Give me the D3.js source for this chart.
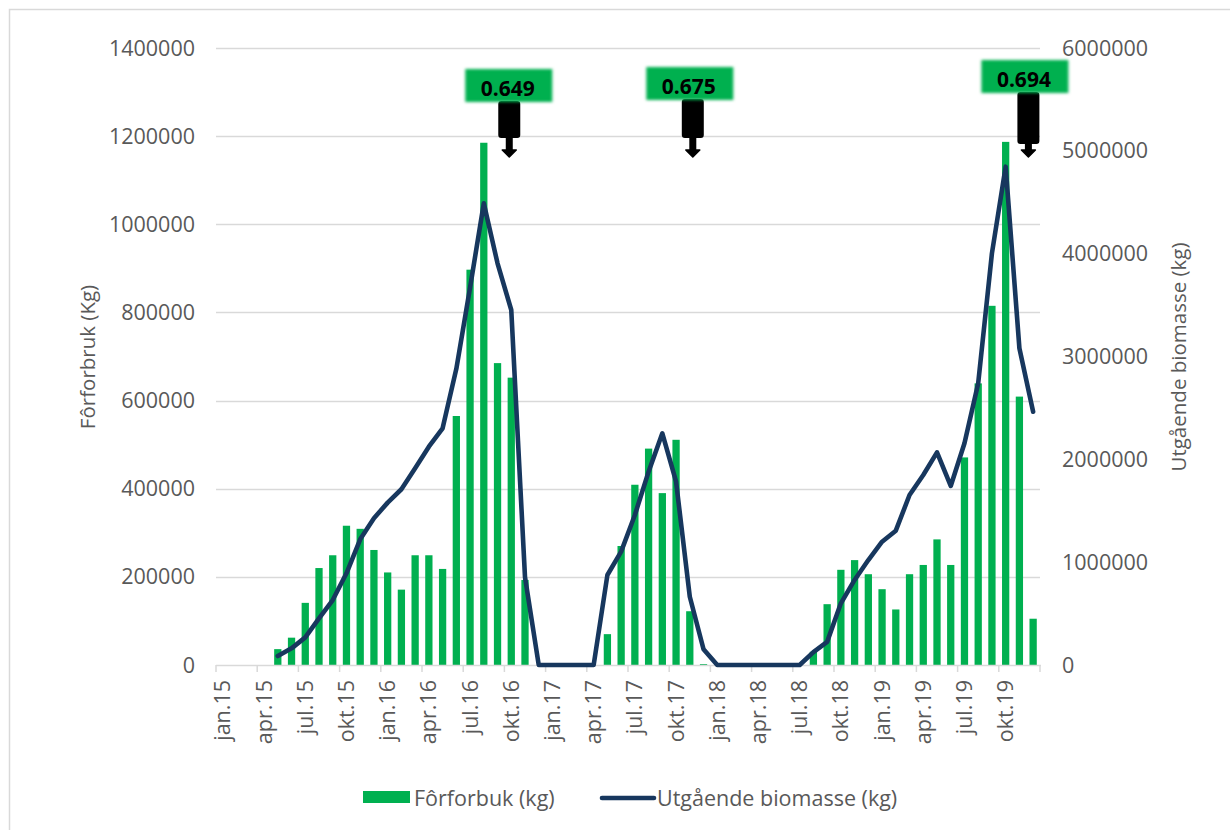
<!DOCTYPE html>
<html>
<head>
<meta charset="utf-8">
<script src="https://cdn.jsdelivr.net/npm/d3@7/dist/d3.min.js"></script>
<style>
  html, body { margin: 0; padding: 0; background: #fff; }
  svg { display: block; }
  text { font-family: "Open Sans", "Liberation Sans", sans-serif; }
</style>
</head>
<body>
<svg id="chart" width="1230" height="830"></svg>
<script>
// ---------- DATA ----------
const categories = [
  "jan.15","feb.15","mar.15","apr.15","mai.15","jun.15","jul.15","aug.15","sep.15","okt.15","nov.15","des.15",
  "jan.16","feb.16","mar.16","apr.16","mai.16","jun.16","jul.16","aug.16","sep.16","okt.16","nov.16","des.16",
  "jan.17","feb.17","mar.17","apr.17","mai.17","jun.17","jul.17","aug.17","sep.17","okt.17","nov.17","des.17",
  "jan.18","feb.18","mar.18","apr.18","mai.18","jun.18","jul.18","aug.18","sep.18","okt.18","nov.18","des.18",
  "jan.19","feb.19","mar.19","apr.19","mai.19","jun.19","jul.19","aug.19","sep.19","okt.19","nov.19","des.19"
];
const tickLabels = [
  "jan.15","apr.15","jul.15","okt.15","jan.16","apr.16","jul.16","okt.16",
  "jan.17","apr.17","jul.17","okt.17","jan.18","apr.18","jul.18","okt.18",
  "jan.19","apr.19","jul.19","okt.19"
];
// Fôrforbuk (kg) – bars, left axis
const feedKg = [
  null, null, null, null, 36000, 62000, 141000, 220000, 249000, 316000, 309000, 261000,
  210000, 171000, 249000, 249000, 218000, 565000, 897000, 1185000, 685000, 652000, 193000, 0,
  0, 0, 0, 0, 70000, 270000, 409000, 491000, 390000, 511000, 122000, 2000,
  0, 0, 0, 0, 0, 0, 0, 30000, 138000, 216000, 238000, 206000,
  172000, 126000, 206000, 227000, 285000, 227000, 471000, 639000, 815000, 1187000, 609000, 105000
];
// Utgående biomasse (kg) – line, right axis
const biomassKg = [
  null, null, null, null, 87500, 162000, 269000, 454000, 632000, 892000, 1222000, 1427000,
  1579000, 1709000, 1913000, 2123000, 2302000, 2880000, 3670000, 4490000, 3906000, 3452000, 855000, 0,
  0, 0, 0, 0, 875000, 1102000, 1459000, 1880000, 2253000, 1783000, 664000, 153000,
  0, 0, 0, 0, 0, 0, 0, 125000, 225000, 600000, 827000, 1021000,
  1199000, 1306000, 1653000, 1848000, 2068000, 1741000, 2156000, 2739000, 4004000, 4846000, 3080000, 2463000
];
const leftTicks = [0, 200000, 400000, 600000, 800000, 1000000, 1200000, 1400000];
const rightTicks = [0, 1000000, 2000000, 3000000, 4000000, 5000000, 6000000];
const annotationLabels = ["0.649", "0.675", "0.694"];
const annotationCategories = ["okt.16", "nov.17", "nov.19"];
const seriesNames = ["Fôrforbuk (kg)", "Utgående biomasse (kg)"];
const axisTitles = ["Fôrforbruk (Kg)", "Utgående biomasse (kg)"];

// ---------- LAYOUT ----------
const svg = d3.select("#chart");
const plot = { left: 216, right: 1040, top: 48, bottom: 665 };
const green = "#00B050", navy = "#17375E", textCol = "#595959", gridCol = "#D9D9D9";
const fs = 21.5;

const x = d3.scaleBand().domain(categories).range([plot.left, plot.right]).padding(0);
const yL = d3.scaleLinear().domain([0, 1400000]).range([plot.bottom, plot.top]);
const yR = d3.scaleLinear().domain([0, 6000000]).range([plot.bottom, plot.top]);

// outer border
svg.append("rect").attr("x", 9.5).attr("y", 9.5).attr("width", 1230).attr("height", 830)
  .attr("fill", "none").attr("stroke", gridCol).attr("stroke-width", 1.5);

// filter for glow on annotation boxes
const defs = svg.append("defs");
const f = defs.append("filter").attr("id", "soft").attr("x", "-20%").attr("y", "-30%").attr("width", "140%").attr("height", "160%");
f.append("feGaussianBlur").attr("stdDeviation", 1.6);

// gridlines
svg.append("g").selectAll("line").data(leftTicks.slice(1)).join("line")
  .attr("x1", plot.left).attr("x2", plot.right)
  .attr("y1", d => Math.round(yL(d)) + 0.5).attr("y2", d => Math.round(yL(d)) + 0.5)
  .attr("stroke", gridCol).attr("stroke-width", 1.5);

// left axis labels
svg.append("g").selectAll("text").data(leftTicks).join("text")
  .attr("x", 195).attr("y", d => yL(d)).attr("dy", "0.35em")
  .attr("text-anchor", "end").attr("font-size", fs).attr("fill", textCol)
  .text(d => d);

// right axis labels
svg.append("g").selectAll("text").data(rightTicks).join("text")
  .attr("x", 1062).attr("y", d => yR(d)).attr("dy", "0.35em")
  .attr("text-anchor", "start").attr("font-size", fs).attr("fill", textCol)
  .text(d => d);

// axis titles
svg.append("text").attr("transform", "translate(95,357) rotate(-90)")
  .attr("text-anchor", "middle").attr("font-size", 20.5).attr("fill", textCol).text(axisTitles[0]);
svg.append("text").attr("transform", "translate(1186,357) rotate(-90)")
  .attr("text-anchor", "middle").attr("font-size", 20.5).attr("fill", textCol).text(axisTitles[1]);

// bars
const barW = x.bandwidth() * 0.53;
const barData = categories.map((c, i) => ({ c, v: feedKg[i] })).filter(d => d.v != null && d.v > 0);
svg.append("g").selectAll("rect").data(barData).join("rect")
  .attr("x", d => x(d.c) + (x.bandwidth() - barW) / 2)
  .attr("width", barW)
  .attr("y", d => yL(d.v))
  .attr("height", d => yL(0) - yL(d.v))
  .attr("fill", green);

// x axis line + ticks
svg.append("line").attr("x1", plot.left).attr("x2", plot.right + 1)
  .attr("y1", plot.bottom + 0.5).attr("y2", plot.bottom + 0.5)
  .attr("stroke", gridCol).attr("stroke-width", 1.5);
const tickXs = tickLabels.map(t => x(t)).concat([plot.right]);
svg.append("g").selectAll("line").data(tickXs).join("line")
  .attr("x1", d => d).attr("x2", d => d)
  .attr("y1", plot.bottom).attr("y2", plot.bottom + 7)
  .attr("stroke", gridCol).attr("stroke-width", 1.5);
svg.append("g").selectAll("text").data(tickLabels).join("text")
  .attr("transform", d => `translate(${x(d) + x.bandwidth() / 2},680) rotate(-90)`)
  .attr("dy", "0.35em")
  .attr("text-anchor", "end").attr("font-size", fs).attr("fill", textCol)
  .text(d => d);

// line
const lineData = categories.map((c, i) => ({ c, v: biomassKg[i] })).filter(d => d.v != null);
const line = d3.line().x(d => x(d.c) + x.bandwidth() / 2).y(d => yR(d.v));
svg.append("path").datum(lineData).attr("d", line)
  .attr("fill", "none").attr("stroke", navy).attr("stroke-width", 4.6)
  .attr("stroke-linejoin", "round").attr("stroke-linecap", "round");

// annotations
const annLayout = [
  { dx: -2, boxDx: -0.5, boxTop: 69 },
  { dx: 3, boxDx: -3, boxTop: 67 },
  { dx: 9, boxDx: -3.5, boxTop: 60 }
];
annotationLabels.forEach((lab, i) => {
  const cx = x(annotationCategories[i]) + x.bandwidth() / 2 + annLayout[i].dx;
  const bx = cx + annLayout[i].boxDx;
  const top = annLayout[i].boxTop, bh = 33, bw = 87;
  const g = svg.append("g");
  const sTop = top + bh - 1, sBot = 138 + (i === 2 ? 6 : 0);
  const tip = 157;
  g.append("rect").attr("x", cx - 11).attr("y", sTop).attr("width", 22).attr("height", sBot - sTop)
    .attr("rx", 3).attr("fill", "#000");
  g.append("rect").attr("x", cx - 3.5).attr("y", sBot - 1).attr("width", 7).attr("height", tip - 6 - sBot + 1)
    .attr("fill", "#000");
  g.append("path").attr("d", `M${cx - 7},${tip - 7} L${cx + 7},${tip - 7} L${cx},${tip} Z`)
    .attr("fill", "#000").attr("stroke", "#000").attr("stroke-width", 1.5).attr("stroke-linejoin", "round");
  g.append("rect").attr("x", bx - bw / 2).attr("y", top).attr("width", bw).attr("height", bh)
    .attr("fill", green).attr("filter", "url(#soft)");
  g.append("text").attr("x", bx - 1).attr("y", top + bh / 2 + 3).attr("dy", "0.35em")
    .attr("text-anchor", "middle").attr("font-size", 21).attr("font-weight", "bold")
    .attr("fill", "#000").text(lab);
});

// legend
const lg = svg.append("g");
lg.append("rect").attr("x", 363).attr("y", 791).attr("width", 47).attr("height", 12).attr("fill", green);
lg.append("text").attr("x", 414).attr("y", 798).attr("dy", "0.35em").attr("font-size", fs)
  .attr("fill", textCol).text(seriesNames[0]);
lg.append("line").attr("x1", 602).attr("x2", 654).attr("y1", 798).attr("y2", 798)
  .attr("stroke", navy).attr("stroke-width", 4.6).attr("stroke-linecap", "round");
lg.append("text").attr("x", 657).attr("y", 798).attr("dy", "0.35em").attr("font-size", fs)
  .attr("fill", textCol).text(seriesNames[1]);
</script>
</body>
</html>
